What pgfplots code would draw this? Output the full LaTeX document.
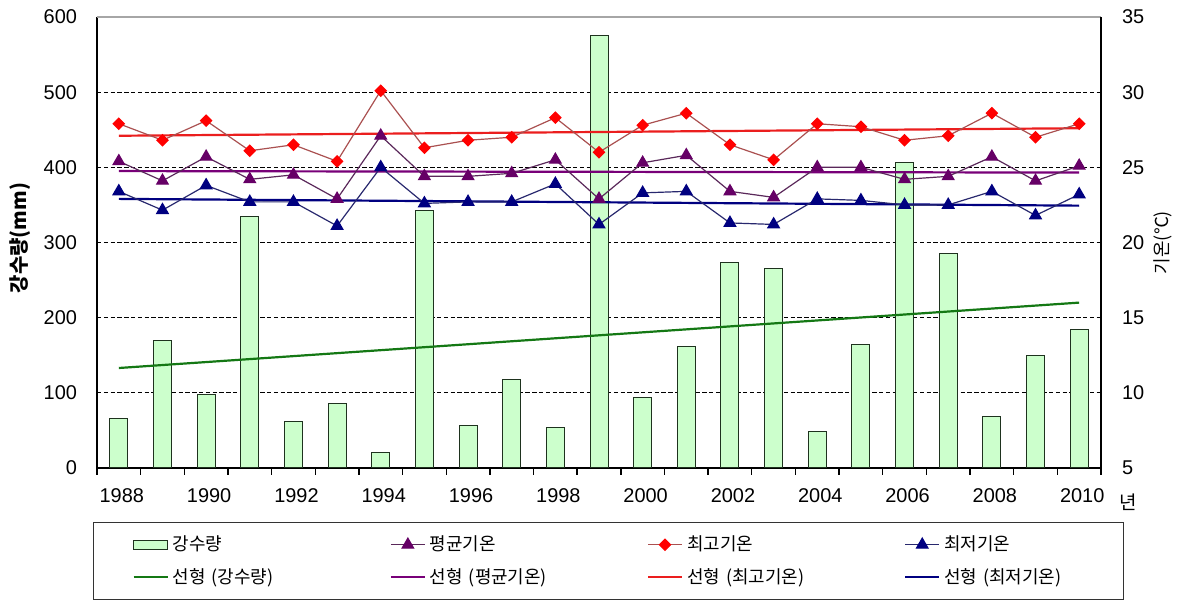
\documentclass[border=0pt]{standalone}
\usepackage{fontspec}
\setmainfont{Liberation Sans}
\newfontfamily\kr{Noto Sans CJK KR}
\usepackage{pgfplots}
\usepackage{pgfplotstable}
\pgfplotsset{compat=1.18}

\definecolor{barfill}{RGB}{204,255,204}
\definecolor{bardraw}{RGB}{30,50,30}
\definecolor{rtrend}{RGB}{20,120,20}
\definecolor{meanmk}{RGB}{102,0,102}
\definecolor{meanln}{RGB}{90,40,90}
\definecolor{meantr}{RGB}{120,0,120}
\definecolor{maxmk}{RGB}{255,0,0}
\definecolor{maxln}{RGB}{170,80,80}
\definecolor{maxtr}{RGB}{235,30,30}
\definecolor{minmk}{RGB}{0,0,128}
\definecolor{minln}{RGB}{40,40,110}
\definecolor{mintr}{RGB}{0,0,128}

\pgfplotstableread{
i rain tmean tmax tmin
0 66 25.4 27.9 23.4
1 169 24.1 26.8 22.15
2 98 25.7 28.1 23.8
3 334 24.2 26.1 22.7
4 62 24.5 26.5 22.7
5 86 22.9 25.4 21.1
6 20 27.1 30.1 25.0
7 343 24.4 26.3 22.6
8 56 24.4 26.8 22.7
9 118 24.6 27.0 22.7
10 54 25.5 28.3 23.9
11 576 22.9 26.0 21.2
12 94 25.3 27.8 23.3
13 162 25.8 28.6 23.4
14 273 23.4 26.5 21.3
15 265 23.0 25.5 21.2
16 48 25.0 27.9 22.9
17 164 25.0 27.7 22.8
18 406 24.2 26.8 22.5
19 285 24.4 27.1 22.5
20 68 25.7 28.6 23.4
21 150 24.1 27.0 21.8
22 184 25.1 27.9 23.2
}\data

\begin{document}
\begin{tikzpicture}
\pgfplotsset{
  every axis/.append style={
    scale only axis, width=502bp, height=225.5bp,
    xmin=-0.5, xmax=22.5,
    /pgf/number format/assume math mode=true,
    tick label style={font=\fontsize{10}{11}\selectfont},
  },
}
\begin{axis}[name=ax,
  ymin=0, ymax=600,
  axis x line*=bottom, axis y line*=left,
  axis line style={line width=0.8bp, black},
  ytick={0,100,...,600},
  xtick={0,2,...,22},
  xticklabels={1988,1990,1992,1994,1996,1998,2000,2002,2004,2006,2008,2010},
  minor xtick={-0.5,0.5,...,22.5},
  major tick length=0pt, minor tick length=3.5bp,
  tick align=outside,
  tick style={line width=0.7bp, black},
  ymajorgrids,
  major grid style={black, line width=0.5bp, dash pattern=on 2.2bp off 1.2bp},
  yticklabel style={xshift=-6.5bp},
  xticklabel style={yshift=-7bp, xshift=1.5bp},
  ylabel={\kr\bfseries 강수량(mm)},
  every axis y label/.style={at={(axis description cs:-0.0767,0.51)}, rotate=90, anchor=center, font=\fontsize{10}{11}\selectfont},
  xlabel={\kr 년},
  every axis x label/.style={at={(axis description cs:1.027,-0.075)}, anchor=center, font=\fontsize{9.5}{10}\selectfont},
  clip=false,
]
\draw[gray!70, line width=0.8bp] (axis description cs:0,1) -- (axis description cs:1,1);
\addplot[ybar, bar width=9bp, fill=barfill, draw=bardraw, line width=0.5bp] table[x=i, y=rain] {\data};
\addplot[rtrend, line width=1.1bp] coordinates {(0,133) (22,220)};
\end{axis}

\begin{axis}[
  ymin=5, ymax=35,
  axis x line=none, axis y line*=right,
  axis line style={line width=0.8bp, black},
  ytick={5,10,...,35},
  major tick length=0pt,
  yticklabel style={xshift=7bp},
  ylabel={\kr 기온(℃)},
  every axis y label/.style={at={(axis description cs:1.0618,0.5)}, rotate=90, anchor=center, font=\fontsize{9}{10}\selectfont},
  legend columns=4,
  legend style={at={(axis description cs:-0.004,-0.12)}, anchor=north west,
    draw=black!80, line width=0.6bp, inner xsep=19.5bp, inner ysep=4.6bp,
    column sep=0pt, row sep=3.25bp,
    font=\kr\fontsize{9}{10}\selectfont},
  legend cell align=left,
  clip=false,
]
\addlegendimage{legend image code/.code={\draw[fill=barfill,draw=bardraw,line width=0.5bp] (0bp,-2.3bp) rectangle (17bp,2.3bp);}}
\addlegendentry[text width=106.5bp]{강수량}
\addlegendimage{meanln, line width=0.6bp, mark=triangle*, mark size=3.3bp, mark options={meanmk, fill=meanmk}}
\addlegendentry[text width=106.5bp]{평균기온}
\addlegendimage{maxln, line width=0.6bp, mark=square*, mark size=1.95bp, mark options={maxmk, fill=maxmk, rotate=45}}
\addlegendentry[text width=106.5bp]{최고기온}
\addlegendimage{minln, line width=0.6bp, mark=triangle*, mark size=3.3bp, mark options={minmk, fill=minmk}}
\addlegendentry[text width=68bp]{최저기온}
\addlegendimage{rtrend, line width=1.1bp}
\addlegendentry[text width=106.5bp]{선형 (강수량)}
\addlegendimage{meantr, line width=1.1bp}
\addlegendentry[text width=106.5bp]{선형 (평균기온)}
\addlegendimage{maxtr, line width=1.1bp}
\addlegendentry[text width=106.5bp]{선형 (최고기온)}
\addlegendimage{mintr, line width=1.1bp}
\addlegendentry[text width=68bp]{선형 (최저기온)}

\addplot[forget plot, meantr, line width=1.1bp] coordinates {(0,24.75) (22,24.65)};
\addplot[forget plot, maxtr, line width=1.1bp] coordinates {(0,27.1) (22,27.6)};
\addplot[forget plot, mintr, line width=1.1bp] coordinates {(0,22.9) (22,22.45)};
\addplot[forget plot, meanln, line width=0.6bp, mark=triangle*, mark size=3.3bp, mark options={meanmk, fill=meanmk}] table[x=i, y=tmean] {\data};
\addplot[forget plot, maxln, line width=0.6bp, mark=square*, mark size=1.95bp, mark options={maxmk, fill=maxmk, rotate=45}] table[x=i, y=tmax] {\data};
\addplot[forget plot, minln, line width=0.6bp, mark=triangle*, mark size=3.3bp, mark options={minmk, fill=minmk}] table[x=i, y=tmin] {\data};
\end{axis}

\pgfresetboundingbox
\path ([shift={(-48.5bp,-67bp)}]ax.south west) rectangle ([shift={(42bp,8.5bp)}]ax.north east);
\end{tikzpicture}
\end{document}
